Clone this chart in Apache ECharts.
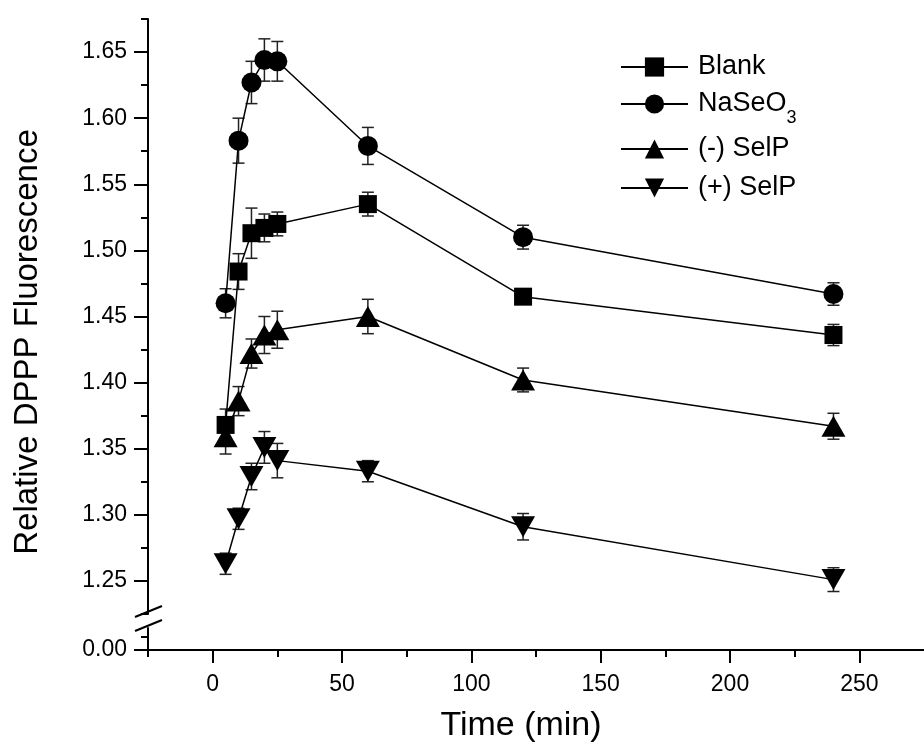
<!DOCTYPE html>
<html>
<head>
<meta charset="utf-8">
<script src="https://cdn.jsdelivr.net/npm/echarts@6/dist/echarts.min.js"></script>
<style>
html, body { margin: 0; padding: 0; background: #fff; }
#chart { width: 924px; height: 754px; }
</style>
</head>
<body>
<div id="chart"></div>
<script>
// time points (min)
var times = [5, 10, 15, 20, 25, 60, 120, 240];

var blank = [1.368, 1.484, 1.513, 1.517, 1.520, 1.535, 1.465, 1.436];
var blankErr = [0.012, 0.0135, 0.019, 0.0105, 0.009, 0.009, 0.003, 0.008];
var naseo3 = [1.460, 1.583, 1.627, 1.644, 1.643, 1.579, 1.510, 1.467];
var naseo3Err = [0.011, 0.017, 0.016, 0.016, 0.015, 0.014, 0.009, 0.0085];
var minusSelP = [1.359, 1.386, 1.422, 1.436, 1.440, 1.450, 1.402, 1.367];
var minusSelPErr = [0.013, 0.011, 0.011, 0.014, 0.014, 0.013, 0.009, 0.0098];
var plusSelP = [1.263, 1.297, 1.329, 1.351, 1.341, 1.333, 1.291, 1.251];
var plusSelPErr = [0.008, 0.008, 0.010, 0.012, 0.013, 0.008, 0.010, 0.009];

// tick labels
var xMajorTicks = [0, 50, 100, 150, 200, 250];
var xMinorTicks = [-25, 25, 75, 125, 175, 225];
var yMajorTicks = [1.25, 1.30, 1.35, 1.40, 1.45, 1.50, 1.55, 1.60, 1.65];
var yMinorTicks = [1.225, 1.275, 1.325, 1.375, 1.425, 1.475, 1.525, 1.575, 1.625, 1.675];
var yLowMajorTicks = [0];
var yLowMinorTicks = [0.01];

var FONT = '"Liberation Sans", Arial, sans-serif';

function pts(vals) {
    var rs = [];
    for (var i = 0; i < times.length; i++) rs.push([times[i], vals[i]]);
    return rs;
}
function errs(vals, e) {
    var rs = [];
    for (var i = 0; i < times.length; i++) rs.push([times[i], vals[i] - e[i], vals[i] + e[i]]);
    return rs;
}

function errorBar(params, api) {
    var x = api.value(0);
    var top = api.coord([x, api.value(2)]);
    var bot = api.coord([x, api.value(1)]);
    var w = 6;
    var st = { stroke: '#222', lineWidth: 1.5 };
    return {
        type: 'group',
        children: [
            { type: 'line', shape: { x1: top[0], y1: top[1], x2: bot[0], y2: bot[1] }, style: st },
            { type: 'line', shape: { x1: top[0] - w, y1: top[1], x2: top[0] + w, y2: top[1] }, style: st },
            { type: 'line', shape: { x1: bot[0] - w, y1: bot[1], x2: bot[0] + w, y2: bot[1] }, style: st }
        ]
    };
}

var names = ['Blank', 'NaSeO3', '(-) SelP', '(+) SelP'];
var values = [blank, naseo3, minusSelP, plusSelP];
var errors = [blankErr, naseo3Err, minusSelPErr, plusSelPErr];
var symbols = ['rect', 'circle', 'triangle', 'path://M0,0L24,0L12,21Z'];
var symbolSizes = [18, 20, [24, 21], [24, 21]];
var legendTops = [44, 81, 126, 165];

var series = [];
for (var i = 0; i < names.length; i++) {
    series.push({
        name: names[i] + ' err',
        type: 'custom',
        xAxisIndex: 0,
        yAxisIndex: 0,
        renderItem: errorBar,
        encode: { x: 0, y: [1, 2] },
        data: errs(values[i], errors[i]),
        z: 1
    });
}
for (var i = 0; i < names.length; i++) {
    series.push({
        name: names[i],
        type: 'line',
        xAxisIndex: 0,
        yAxisIndex: 0,
        data: pts(values[i]),
        symbol: symbols[i],
        symbolSize: symbolSizes[i],
        showAllSymbol: true,
        lineStyle: { color: '#000', width: 1.5 },
        itemStyle: { color: '#000' },
        z: 3
    });
}

var legends = names.map(function(n, i) {
    return {
        data: [n],
        left: 620,
        top: legendTops[i],
        padding: 0,
        itemWidth: 67,
        itemHeight: 24,
        itemGap: 0,
        selectedMode: false,
        textStyle: {
            fontSize: 27,
            fontFamily: FONT,
            color: '#000',
            lineHeight: 46,
            padding: [0, 0, 0, 5],
            rich: {
                sub: { fontSize: 18, fontFamily: FONT, color: '#000', lineHeight: 18, padding: [28, 0, 0, 0] }
            }
        },
        formatter: function(name) {
            return name === 'NaSeO3' ? 'NaSeO{sub|3}' : name;
        }
    };
});

var axisBlack = { color: '#000', width: 2 };

var myChart = echarts.init(document.getElementById('chart'));
myChart.setOption({
    animation: false,
    backgroundColor: '#fff',
    legend: legends,
    grid: [
        { left: 148, right: -7, top: 19, bottom: 140 },
        { left: 148, right: -7, top: 628, bottom: 104 }
    ],
    xAxis: [
        { type: 'value', gridIndex: 0, min: -25, max: 275, show: false, position: 'bottom' },
        {
            type: 'value', gridIndex: 1, min: -25, max: 275, position: 'bottom',
            axisLine: { onZero: false, lineStyle: axisBlack },
            axisTick: { customValues: xMajorTicks, length: 13, lineStyle: axisBlack },
            axisLabel: { customValues: xMajorTicks, fontSize: 23, fontFamily: FONT, color: '#000', margin: 23 },
            splitLine: { show: false }
        },
        {
            type: 'value', gridIndex: 1, min: -25, max: 275, position: 'bottom',
            axisLine: { show: false, onZero: false },
            axisTick: { customValues: xMinorTicks, length: 7, lineStyle: axisBlack },
            axisLabel: { show: false },
            splitLine: { show: false }
        }
    ],
    yAxis: [
        {
            type: 'value', gridIndex: 0, min: 1.225, max: 1.675, position: 'left',
            axisLine: { show: true, onZero: false, lineStyle: axisBlack },
            axisTick: { show: true, customValues: yMajorTicks, length: 14, lineStyle: axisBlack },
            axisLabel: {
                customValues: yMajorTicks, fontSize: 23, fontFamily: FONT, color: '#000', margin: 21,
                formatter: function(v) { return v.toFixed(2); }
            },
            splitLine: { show: false }
        },
        {
            type: 'value', gridIndex: 0, min: 1.225, max: 1.675, position: 'left',
            axisLine: { show: false, onZero: false },
            axisTick: { show: true, customValues: yMinorTicks, length: 7, lineStyle: axisBlack },
            axisLabel: { show: false },
            splitLine: { show: false }
        },
        {
            type: 'value', gridIndex: 1, min: 0, max: 0.017, position: 'left',
            axisLine: { show: true, onZero: false, lineStyle: axisBlack },
            axisTick: { show: true, customValues: yLowMajorTicks, length: 14, lineStyle: axisBlack },
            axisLabel: {
                customValues: yLowMajorTicks, fontSize: 23, fontFamily: FONT, color: '#000', margin: 21,
                formatter: function(v) { return v.toFixed(2); }
            },
            splitLine: { show: false }
        },
        {
            type: 'value', gridIndex: 1, min: 0, max: 0.017, position: 'left',
            axisLine: { show: false, onZero: false },
            axisTick: { show: true, customValues: yLowMinorTicks, length: 7, lineStyle: axisBlack },
            axisLabel: { show: false },
            splitLine: { show: false }
        }
    ],
    graphic: [
        // axis break marks
        { type: 'line', z: 100, shape: { x1: 135, y1: 617, x2: 162, y2: 606 }, style: { stroke: '#000', lineWidth: 2 } },
        { type: 'line', z: 100, shape: { x1: 135, y1: 631, x2: 162, y2: 620 }, style: { stroke: '#000', lineWidth: 2 } },
        {
            type: 'text', x: 521, y: 726,
            style: { text: 'Time (min)', fontSize: 34, fontFamily: FONT, fill: '#000', align: 'center', verticalAlign: 'middle' }
        },
        {
            type: 'text', x: 28, y: 342, rotation: Math.PI / 2,
            style: { text: 'Relative DPPP Fluorescence', fontSize: 33, fontFamily: FONT, fill: '#000', align: 'center', verticalAlign: 'middle' }
        }
    ],
    series: series
});
</script>
</body>
</html>
